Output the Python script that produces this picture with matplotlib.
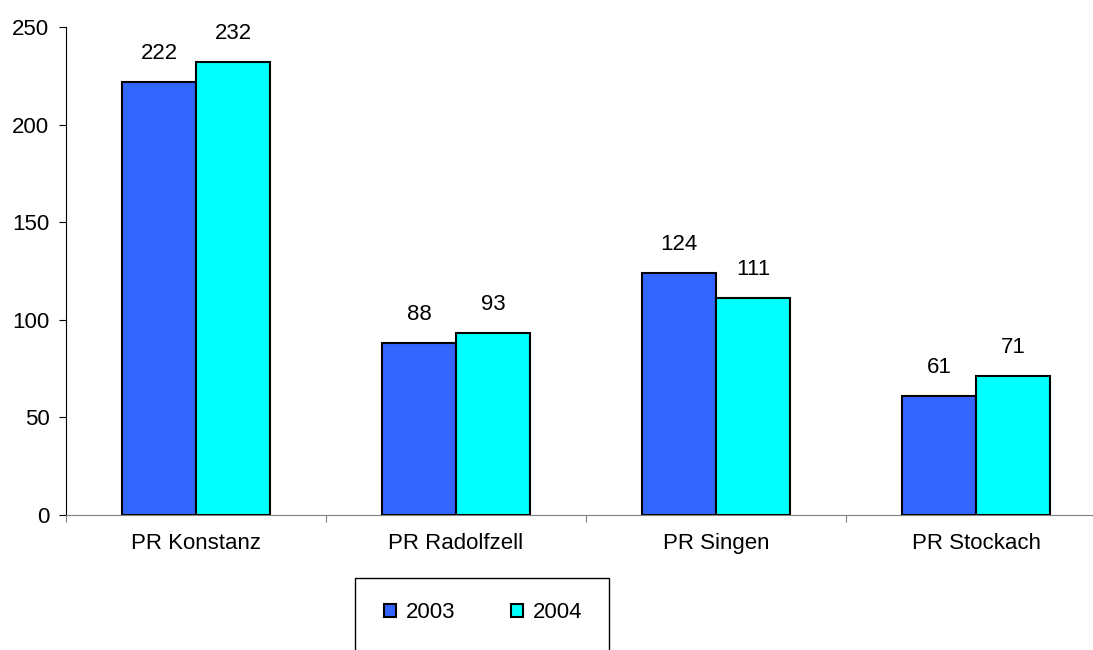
import numpy as np
import matplotlib.pyplot as plt
from matplotlib.patches import Rectangle

# Daten
kategorien = ['PR Konstanz', 'PR Radolfzell', 'PR Singen', 'PR Stockach']
werte_2003 = [222, 88, 124, 61]
werte_2004 = [232, 93, 111, 71]
jahre = ['2003', '2004']

plt.rcParams['font.family'] = ['Liberation Sans', 'DejaVu Sans']
fs = 16

fig = plt.figure(figsize=(10.93, 6.5), dpi=100)
ax = fig.add_axes([66 / 1093, 135 / 650, 1040 / 1093, 488 / 650])

x = np.arange(len(kategorien))
w = 0.285
b1 = ax.bar(x - w / 2, werte_2003, w, color='#3366FF', edgecolor='black', linewidth=1.5, label=jahre[0])
b2 = ax.bar(x + w / 2, werte_2004, w, color='#00FFFF', edgecolor='black', linewidth=1.5, label=jahre[1])

for bars in (b1, b2):
    for r in bars:
        ax.annotate(f'{int(r.get_height())}', (r.get_x() + r.get_width() / 2, r.get_height()),
                    xytext=(0, 13), textcoords='offset points', ha='center', va='bottom', fontsize=fs)

ax.set_xlim(-0.5, 3.5)
ax.set_ylim(0, 250)
ax.set_yticks(range(0, 251, 50))
ax.tick_params(axis='y', labelsize=fs, length=5, direction='out', pad=7)

# Gruppengrenzen als Ticks, Beschriftung mittig
ax.set_xticks([-0.5, 0.5, 1.5, 2.5, 3.5])
ax.set_xticklabels([])
ax.set_xticks(x, minor=True)
ax.set_xticklabels(kategorien, minor=True, fontsize=fs)
ax.tick_params(axis='x', which='major', length=5, color='#808080')
ax.tick_params(axis='x', which='minor', length=0, pad=13)

for s in ('top', 'right'):
    ax.spines[s].set_visible(False)
ax.spines['bottom'].set_color('#808080')
ax.spines['left'].set_color('black')

# Legende
fig.patches.append(Rectangle((355 / 1093, -20 / 650), 254 / 1093, 92 / 650, transform=fig.transFigure,
                             facecolor='white', edgecolor='black', linewidth=1.0, zorder=0))
fig.legend(handles=[b1, b2], labels=jahre, loc='center', bbox_to_anchor=(483 / 1093, 37 / 650),
           ncol=2, frameon=False, fontsize=fs, handlelength=0.55, handleheight=0.55,
           handletextpad=0.45, columnspacing=2.5)

fig.savefig('out.png', dpi=100)
